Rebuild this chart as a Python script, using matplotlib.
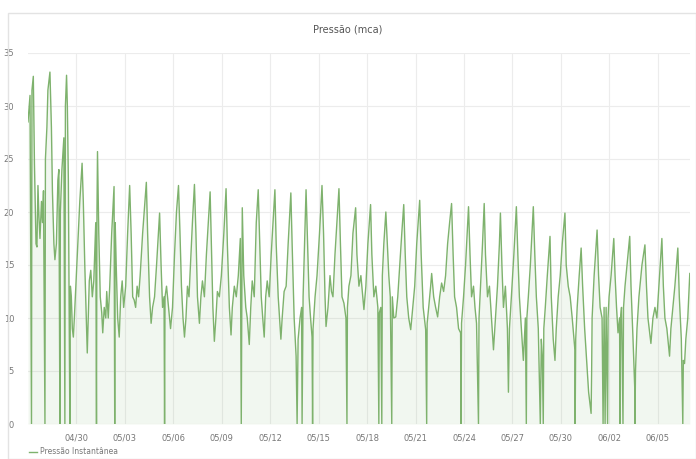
from datetime import datetime, timedelta
import matplotlib
matplotlib.use('Agg')
import matplotlib.pyplot as plt
import matplotlib.dates as mdates
from matplotlib.patches import Rectangle

# hours since 04/27 00:00 and pressure readings (mca)
hours = [
    0, 3.0, 5.2, 5.9, 7.9, 9.6, 10.4, 11.9, 13.3, 14.8, 16.3, 17.8, 20.0, 21.5, 23.0,
    25.2, 25.9, 28.1, 29.6, 32.6, 34.8, 36.3, 38.5, 40.0, 42.2, 44.4, 45.9, 47.4,
    48.1, 50.4, 53.3, 54.8, 55.6, 57.3, 58.5, 60.0, 62.2, 63.0, 64.4, 65.9, 67.4,
    68.9, 71.1, 74.1, 77.0, 80.4, 82.2, 84.4, 86.7, 88.1, 89.6, 91.1, 93.3, 95.6,
    97.8, 100.7, 101.8, 102.5, 103.3, 105.2, 107.4, 109.6, 111.1, 113.3, 115.6,
    117.0, 119.3, 121.5, 124.4, 127.9, 128.9, 129.6, 131.1, 133.3, 135.6, 137.8,
    140.0, 142.2, 145.2, 148.1, 151.1, 153.3, 155.6, 157.8, 160.0, 162.2, 164.4,
    166.7, 170.4, 175.9, 177.8, 180.7, 183.0, 185.2, 188.1, 191.1, 195.6, 197.8,
    200.0, 202.2, 203.0, 203.7, 205.9, 208.9, 211.9, 214.8, 217.8, 220.7, 223.7,
    225.9, 228.1, 230.4, 232.6, 234.8, 237.0, 239.3, 241.5, 244.4, 247.4, 249.6,
    251.9, 254.8, 257.0, 259.3, 262.2, 265.2, 270.7, 272.6, 274.8, 277.0, 279.3,
    281.5, 284.4, 287.4, 291.1, 294.4, 296.3, 299.3, 301.8, 303.7, 306.7, 309.6,
    312.6, 315.6, 317.0, 318.5, 320.7, 323.7, 325.9, 328.9, 331.1, 333.3, 336.3,
    339.3, 342.2, 344.4, 346.7, 348.9, 351.1, 353.3, 355.6, 358.5, 361.5, 367.0,
    368.9, 371.9, 375.9, 377.8, 380.7, 383.7, 386.7, 390.7, 392.6, 395.6, 398.5,
    400.0, 401.5, 404.4, 406.7, 407.4, 408.9, 411.1, 413.3, 415.6, 417.8, 420.0,
    422.2, 423.0, 423.7, 426.7, 429.6, 433.3, 437.0, 439.3, 441.5, 443.0, 445.9,
    448.9, 451.1, 453.3, 456.3, 462.2, 464.4, 466.7, 469.6, 472.6, 474.1, 474.8,
    477.0, 480.0, 483.0, 487.0, 488.9, 491.9, 494.8, 499.3, 502.2, 505.2, 509.2,
    511.1, 514.1, 517.0, 520.0, 521.5, 522.2, 524.4, 525.9, 526.7, 528.9, 531.9,
    534.1, 536.3, 538.5, 540.7, 541.5, 543.7, 546.7, 549.6, 552.6, 555.6, 558.5,
    560.7, 563.0, 565.9, 568.9, 571.9, 574.8, 577.8, 582.2, 584.4, 587.4, 591.1,
    592.6, 593.3, 595.6, 598.5, 600.0, 603.0, 605.9, 608.9, 611.9, 614.8, 617.8,
    620.7, 623.7, 626.7, 629.6, 631.9, 634.1, 637.0, 640.0, 643.0, 643.7, 644.4,
    647.4, 650.4, 654.8, 657.0, 659.3, 662.2, 664.4, 666.7, 669.6, 670.4, 672.6,
    675.6, 678.1, 680.0, 683.0, 685.9, 688.9, 691.9, 694.8, 697.8, 700.7, 702.2,
    704.4, 706.7, 709.6, 712.6, 714.1, 715.6, 718.5, 722.2, 725.9, 728.1, 730.4,
    733.3, 736.3, 739.3, 740.7, 741.5, 743.7, 746.7, 751.1, 753.3, 755.6, 758.5,
    761.5, 763.0, 764.4, 765.9, 766.7, 768.9, 771.9, 775.9, 777.8, 780.7, 783.3,
    785.2, 788.1, 791.1, 794.1, 798.1, 800.0, 803.0, 805.9, 808.9, 812.9, 813.3,
    814.1, 816.3, 819.3, 822.2, 824.4, 827.4, 830.4, 833.3, 837.0, 837.8, 838.5,
    841.5, 845.9, 848.1, 850.4, 853.3, 854.8, 856.3, 857.8, 859.3, 861.5, 862.2,
    863.7, 866.7, 870.7, 872.6, 874.8, 877.0, 879.3, 880.0, 880.7, 882.2, 884.4,
    885.2, 887.4, 890.4, 894.4, 896.3, 899.3, 901.8, 902.2, 903.0, 905.2, 908.1,
    912.6, 917.0, 919.3, 921.5, 925.9, 928.9, 931.9, 934.8, 937.8, 942.2, 944.4,
    946.7, 949.6, 953.6, 955.6, 958.5, 961.5, 965.9, 968.1, 971.1, 973.3, 974.1,
    975.9, 977.8, 980.7, 983.7,
]
pressure = [
    28.5, 31.0, 0, 31.5, 32.8, 24.5, 22, 17, 16.7, 22.5, 19.5, 17.5, 21.0, 19, 22.0,
    0, 25, 28, 31.5, 33.2, 28, 22, 17, 15.5, 17, 23, 24, 0,
    20, 24, 27, 0, 30, 32.9, 30, 23, 0, 13, 12, 9, 8.2,
    10, 13, 17, 21, 24.6, 21, 15, 10, 6.7, 10, 13.5, 14.5, 12,
    13.5, 19, 0, 20, 25.7, 18, 12, 10.5, 8.6, 11, 10,
    12.5, 10, 13, 18, 22.4, 0, 19, 15, 10, 8.2, 12,
    13.5, 11, 13, 18, 22.5, 18, 12, 11.7, 11, 13, 12,
    14, 18, 22.8, 18, 12, 9.5, 11, 12, 15, 19.9, 15,
    11, 12, 0, 12, 13, 11, 9, 11, 16, 20, 22.5,
    18, 13, 10, 8.2, 10, 13, 12, 15, 19, 22.6, 18,
    12, 9.5, 12, 13.5, 12, 16, 21.9, 17, 11, 7.8, 10,
    12.5, 12, 14, 18, 22.2, 17, 11, 8.4, 11, 13, 12,
    14, 17.5, 0, 20.4, 14, 11, 10, 7.5, 11, 13.5, 12,
    19, 22.1, 17, 12, 10, 8.2, 12, 13.5, 12, 16, 22.1,
    17, 12, 8.0, 10, 12.5, 13, 17, 21.8, 17, 10, 6.4,
    0, 8, 10, 11, 0, 12, 17, 22.1, 17, 12, 10,
    8.2, 0, 9, 12, 14, 18, 22.5, 18, 12, 9.2, 11,
    14, 12.5, 12, 16, 22.2, 17, 12, 11.4, 10, 0, 11,
    13, 14, 18, 20.4, 16, 13, 14, 10.8, 13, 17, 20.7,
    16, 12, 13, 11, 0, 10.5, 11, 0, 14, 17, 20.0,
    17, 14, 12, 0, 12, 10, 10.1, 12, 15, 18, 20.7,
    16, 12, 10, 8.9, 11, 13, 17, 21.1, 16, 11, 8.9,
    0, 9.5, 11, 13, 14.2, 12, 11, 10.1, 12, 13.3, 12.5,
    14, 17, 19, 20.8, 16, 12, 11, 9, 8.6, 0, 9.5,
    12, 15, 20.5, 16, 12, 13, 11, 9.5, 0, 10, 13,
    17, 20.8, 16, 12, 13, 10, 7.0, 10, 13, 17, 19.9,
    15, 11, 13, 9, 3, 9, 12, 16, 20.5, 16, 12,
    9, 6.0, 10, 0, 10, 12, 15, 20.5, 16, 12, 9,
    0, 8, 6.5, 0, 9, 11, 14, 17.7, 12, 8, 6.0,
    9, 12, 14, 17, 19.9, 15, 13, 12, 10, 7.0, 0,
    8, 11, 14, 16.6, 13, 9, 6, 3, 1.0, 5, 10,
    14, 18.3, 14, 11, 10, 0, 11, 0, 11, 0, 10,
    12, 14, 17.5, 14, 11, 8.6, 10, 0, 10, 11, 0,
    11, 13, 15, 17.7, 13, 8, 3.5, 0, 5, 9, 12,
    15, 16.9, 13, 10, 7.6, 10, 11, 10, 13, 17.5, 13,
    10, 9, 6.4, 9, 11, 13, 16.6, 12, 8, 0, 6,
    5.7, 8, 10, 14.2,
]

start = datetime(2021, 4, 27)
times = [start + timedelta(hours=h) for h in hours]
tick_days = [datetime(2021, 4, 30) + timedelta(days=3 * i) for i in range(13)]

green = '#7eb26d'

fig = plt.figure(figsize=(6.96, 4.59), dpi=100)
fig.patches.append(Rectangle((8 / 696, 0), 1 - 8 / 696, 1 - 13 / 459,
                             transform=fig.transFigure, fill=False,
                             edgecolor='#e3e3e3', linewidth=1.0))
ax = fig.add_axes([28 / 696, 1 - 424 / 459, 662 / 696, (424 - 53) / 459])

line, = ax.plot(times, pressure, color=green, lw=1.0, label='Pressão Instantânea')
ax.fill_between(times, pressure, 0, color=green, alpha=0.1, lw=0)

ax.set_ylim(0, 35)
ax.set_xlim(start, start + timedelta(hours=984))
ax.set_yticks([0, 5, 10, 15, 20, 25, 30, 35])
ax.set_xticks(tick_days)
ax.xaxis.set_major_formatter(mdates.DateFormatter('%m/%d'))

ax.grid(True, color='#ececec', lw=0.8)
ax.set_axisbelow(True)
for s in ax.spines.values():
    s.set_visible(False)
ax.tick_params(length=0, labelsize=6, colors='#777777')
ax.tick_params(axis='y', pad=10)
ax.tick_params(axis='x', pad=7)

fig.text(0.5, 1 - 30 / 459, 'Pressão (mca)', ha='center', va='center',
         fontsize=7, color='#555555')
fig.legend(handles=[line], loc='center left', bbox_to_anchor=(22 / 696, 1 - 452 / 459),
           frameon=False, fontsize=5.5, handlelength=1.0, handletextpad=0.5,
           labelcolor='#777777')

fig.savefig('out.png', dpi=100)
